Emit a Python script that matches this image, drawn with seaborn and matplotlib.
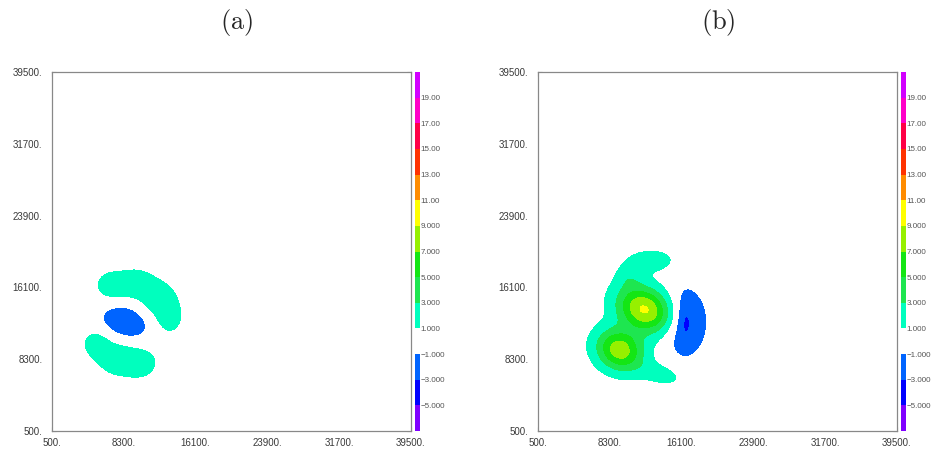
import numpy as np
import matplotlib.pyplot as plt
import seaborn as sns

sns.set_style("ticks")
plt.rcParams['font.family'] = ['Liberation Sans', 'DejaVu Sans']
plt.rcParams['mathtext.fontset'] = 'cm'

# contour bands and their colours (white band = -1..1)
levels = [-7, -5, -3, -1, 1, 3, 5, 7, 9, 11, 13, 15, 17, 19, 21]
band_colors = ['#7f00ff', '#0000ff', '#0064ff', '#ffffff', '#00ffbe',
               '#1ee650', '#14e614', '#96f000', '#ffff00', '#ff8c00',
               '#ff3200', '#ff0046', '#ff00c8', '#d200ff']
cbar_ticks = [-5, -3, -1, 1, 3, 5, 7, 9, 11, 13, 15, 17, 19]
cbar_labels = ['\u22125.000', '\u22123.000', '\u22121.000', '1.000', '3.000',
               '5.000', '7.000', '9.000', '11.00', '13.00', '15.00', '17.00', '19.00']
axis_ticks = [500, 8300, 16100, 23900, 31700, 39500]
axis_labels = ['500.', '8300.', '16100.', '23900.', '31700.', '39500.']

# blobs: centre, peak value, spread, tilt (deg)
a_x = [8430, 6900, 9600, 12000, 13200, 5300, 7400, 10000]
a_y = [12350, 16300, 16500, 15000, 12900, 10000, 8400, 7900]
a_peak = [-2.5, 1.9, 2.0, 2.0, 1.8, 1.7, 2.0, 2.0]
a_sx = [1850, 1200, 1400, 1300, 1100, 1100, 1400, 1400]
a_sy = [1300, 1100, 1200, 1300, 1400, 1100, 1300, 1200]
a_tilt = [-15, 0, 0, 0, 0, 0, 0, 0]

b_x = [12100, 9370, 16400, 16500, 12800, 10400, 13800]
b_y = [13700, 9310, 12350, 12300, 19000, 17200, 6700]
b_peak = [9.3, 8.2, -2.9, -1.2, 1.9, 1.6, 1.8]
b_sx = [2150, 1800, 1700, 500, 1900, 1000, 1800]
b_sy = [1600, 1500, 2600, 1400, 900, 1000, 800]
b_tilt = [-25, -25, 0, 0, 0, 0, -15]

grid = np.linspace(500, 39500, 400)
X, Y = np.meshgrid(grid, grid)


def field(xs, ys, peaks, sxs, sys_, tilts):
    z = np.zeros_like(X)
    for x0, y0, p, sx, sy, t in zip(xs, ys, peaks, sxs, sys_, tilts):
        th = np.radians(t)
        u = (X - x0) * np.cos(th) + (Y - y0) * np.sin(th)
        v = -(X - x0) * np.sin(th) + (Y - y0) * np.cos(th)
        z += p * np.exp(-(u**2 / (2 * sx**2) + v**2 / (2 * sy**2)))
    return z


fig = plt.figure(figsize=(9.34, 4.54), dpi=100)

panels = [
    ('(a)', field(a_x, a_y, a_peak, a_sx, a_sy, a_tilt), 52, 415, 237),
    ('(b)', field(b_x, b_y, b_peak, b_sx, b_sy, b_tilt), 538, 901, 718),
]

for title, Z, left_px, cb_px, title_px in panels:
    ax = fig.add_axes([left_px / 934, 23 / 454, 359 / 934, 359 / 454])
    cs = ax.contourf(X, Y, Z, levels=levels, colors=band_colors)
    ax.set_xlim(500, 39500)
    ax.set_ylim(500, 39500)
    ax.set_xticks(axis_ticks)
    ax.set_xticklabels(axis_labels)
    ax.set_yticks(axis_ticks)
    ax.set_yticklabels(axis_labels)
    ax.tick_params(direction='in', top=True, right=True, length=3, width=0.8,
                   color='#888888', labelsize=7, labelcolor='#3a3a3a')
    ax.tick_params(axis='y', pad=7)
    ax.tick_params(axis='x', pad=5)
    for s in ax.spines.values():
        s.set_color('#888888')
        s.set_linewidth(0.9)

    cax = fig.add_axes([cb_px / 934, 23 / 454, 5 / 934, 359 / 454])
    cb = fig.colorbar(cs, cax=cax, ticks=cbar_ticks)
    cb.set_ticklabels(cbar_labels)
    cb.outline.set_visible(False)
    cax.tick_params(length=0, labelsize=5.8, labelcolor='#555555', pad=0.5)

    fig.text(title_px / 934, 1 - 22 / 454, r'$\mathrm{' + title + '}$',
             ha='center', va='center', fontsize=19)

fig.savefig('out.png', dpi=100)
